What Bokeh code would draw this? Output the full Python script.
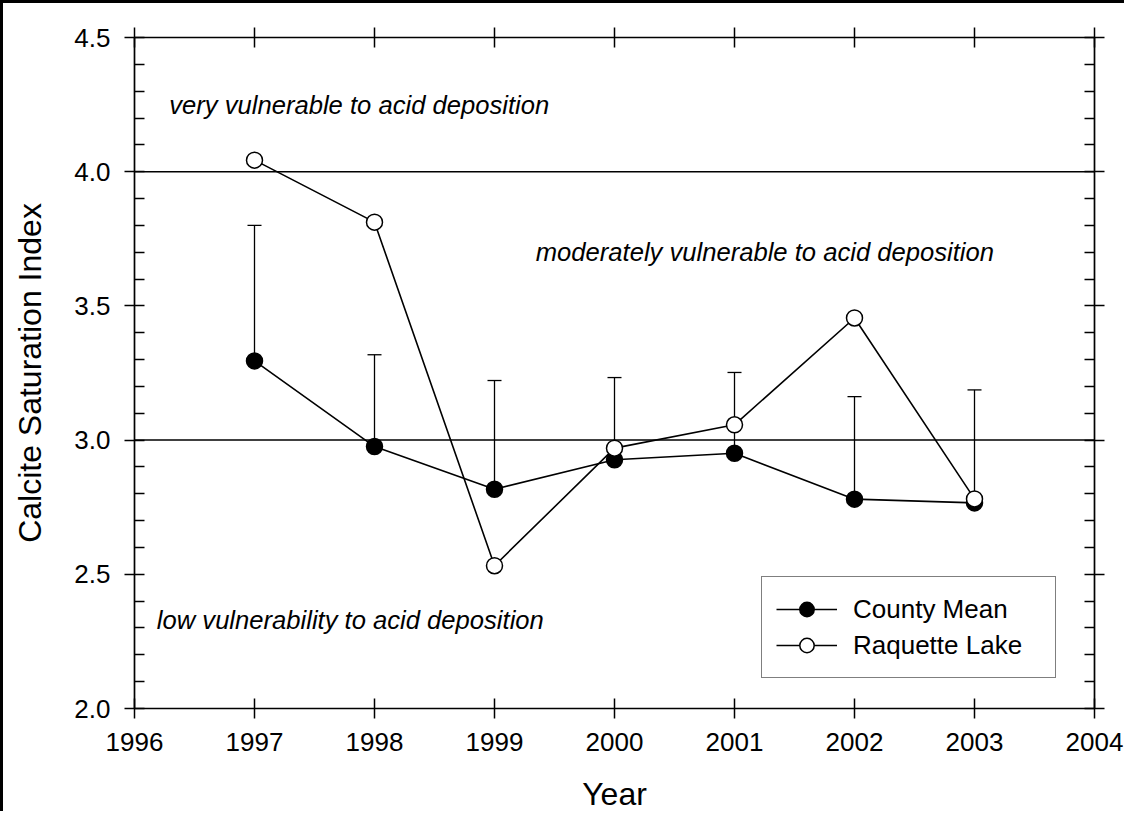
from bokeh.plotting import figure
from bokeh.models import (FixedTicker, LinearAxis, Span, Whisker, TeeHead, ColumnDataSource,
                          Legend, LegendItem, Label, Range1d, PrintfTickFormatter,
                          CustomJSTickFormatter)
from bokeh.embed import file_html
from bokeh.resources import INLINE

# ---- data ----
years = [1997, 1998, 1999, 2000, 2001, 2002, 2003]
county_mean = [3.295, 2.976, 2.817, 2.927, 2.951, 2.780, 2.766]
county_upper = [3.800, 3.318, 3.222, 3.233, 3.252, 3.162, 3.187]
raquette_lake = [4.043, 3.812, 2.532, 2.970, 3.057, 3.455, 2.781]

x_ticks = [1996, 1997, 1998, 1999, 2000, 2001, 2002, 2003, 2004]
y_ticks = [2.0, 2.5, 3.0, 3.5, 4.0, 4.5]
y_minor_ticks = [2.1, 2.2, 2.3, 2.4, 2.6, 2.7, 2.8, 2.9, 3.1, 3.2, 3.3, 3.4,
                 3.6, 3.7, 3.8, 3.9, 4.1, 4.2, 4.3, 4.4]
thresholds = [3.0, 4.0]
zone_texts = ["very vulnerable to acid deposition",
              "moderately vulnerable to acid deposition",
              "low vulnerability to acid deposition"]
series_names = ["County Mean", "Raquette Lake"]

FONT = "Liberation Sans"

src = ColumnDataSource(dict(year=years, mean=county_mean, upper=county_upper, raq=raquette_lake))

p = figure(width=1124, height=811,
           x_range=Range1d(1996, 2004), y_range=Range1d(2.0, 4.5),
           output_backend="svg", toolbar_location=None,
           min_border_left=131, min_border_right=33, min_border_top=34, min_border_bottom=100)
p.styles = {"border-top": "3px solid black", "border-left": "3px solid black"}
p.outline_line_color = None
p.grid.visible = False
p.background_fill_color = "white"
p.border_fill_color = "white"

bottom_ax = p.xaxis[0]
left_ax = p.yaxis[0]
top_ax = LinearAxis()
right_ax = LinearAxis()
p.add_layout(top_ax, "above")
p.add_layout(right_ax, "right")

for ax in [bottom_ax, top_ax]:
    ax.ticker = FixedTicker(ticks=x_ticks)
    ax.major_tick_in = 10
    ax.major_tick_out = 10
    ax.minor_tick_in = 0
    ax.minor_tick_out = 0
for ax in [left_ax, right_ax]:
    ax.ticker = FixedTicker(ticks=y_ticks, minor_ticks=y_minor_ticks)
    ax.major_tick_in = 10
    ax.major_tick_out = 10
    ax.minor_tick_in = 10
    ax.minor_tick_out = 0
for ax in [bottom_ax, top_ax, left_ax, right_ax]:
    ax.axis_line_width = 1.7
    ax.major_tick_line_width = 1.5
    ax.minor_tick_line_width = 1.5
    ax.axis_line_color = "black"
    ax.major_tick_line_color = "black"
    ax.minor_tick_line_color = "black"
    ax.major_label_text_font = FONT
    ax.major_label_text_font_size = "26px"
    ax.major_label_text_color = "black"
    ax.axis_label_text_font = FONT
    ax.axis_label_text_font_style = "normal"
    ax.axis_label_text_font_size = "32px"
    ax.axis_label_text_color = "black"
for ax in [top_ax, right_ax]:
    ax.formatter = CustomJSTickFormatter(code="return '';")
    ax.major_label_standoff = 0

left_ax.formatter = PrintfTickFormatter(format="%.1f")
left_ax.major_label_standoff = 14
left_ax.axis_label = "Calcite Saturation Index"
left_ax.axis_label_standoff = 23
bottom_ax.major_label_standoff = 14
bottom_ax.axis_label = "Year"
bottom_ax.axis_label_standoff = 22

for t in thresholds:
    p.add_layout(Span(location=t, dimension="width", line_color="black", line_width=1.5))

for txt, x, y in zip(zone_texts, [1996.29, 1999.344, 1996.186], [4.25, 3.70, 2.33]):
    p.add_layout(Label(x=x, y=y, text=txt, text_font=FONT, text_font_size="25.6px",
                       text_font_style="italic", text_baseline="middle", text_color="black"))

p.add_layout(Whisker(source=src, base="year", upper="upper", lower="mean",
                     line_color="black", line_width=1.3,
                     upper_head=TeeHead(size=14, line_width=1.3, line_color="black"),
                     lower_head=None))

c_line = p.line("year", "mean", source=src, line_color="black", line_width=1.6)
c_pts = p.scatter("year", "mean", source=src, size=16, fill_color="black",
                  line_color="black", line_width=1.5)
r_line = p.line("year", "raq", source=src, line_color="black", line_width=1.6)
r_pts = p.scatter("year", "raq", source=src, size=16, fill_color="white",
                  line_color="black", line_width=1.5)

legend = Legend(items=[LegendItem(label=series_names[0], renderers=[c_line, c_pts]),
                       LegendItem(label=series_names[1], renderers=[r_line, r_pts])],
                location=(627, 30), glyph_width=61, glyph_height=36, label_height=36,
                label_width=188, label_standoff=16, padding=14, spacing=0, margin=0,
                border_line_color="black", border_line_width=1.5,
                label_text_font=FONT, label_text_font_size="26px", label_text_color="black",
                background_fill_color="white", background_fill_alpha=1.0)
p.add_layout(legend)

open("out.html", "w").write(file_html(p, INLINE))
